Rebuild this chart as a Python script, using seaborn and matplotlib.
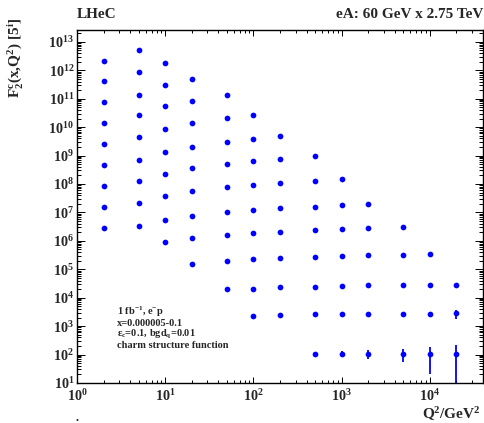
import numpy as np
import pandas as pd
import matplotlib
matplotlib.use("Agg")
import matplotlib.pyplot as plt
import matplotlib.ticker as mticker
import seaborn as sns

# ---------------- data ----------------
q2_bins = [2, 5, 10, 20, 50, 100, 200, 500, 1000, 2000, 5000, 10000, 20000]

f2c_q2_2 = [2.1e12, 4.1e11, 7.4e10, 1.35e10, 2.6e9, 4.8e8, 8.7e7, 1.6e7, 2.9e6]
f2c_q2_5 = [5.0e12, 8.5e11, 1.4e11, 2.6e10, 4.5e9, 7.2e8, 1.3e8, 2.2e7, 3.4e6]
f2c_q2_10 = [1.8e12, 3.0e11, 5.4e10, 8.5e9, 1.35e9, 2.3e8, 3.7e7, 5.6e6, 8.9e5]
f2c_q2_20 = [4.9e11, 8.5e10, 1.35e10, 2.0e9, 3.5e8, 5.5e7, 7.6e6, 1.26e6, 1.55e5]
f2c_q2_50 = [1.35e11, 2.1e10, 3.1e9, 5.2e8, 7.8e7, 1.05e7, 1.6e6, 2.0e5, 1.95e4]
f2c_q2_100 = [2.7e10, 3.8e9, 6.6e8, 9.1e7, 1.23e7, 1.86e6, 2.3e5, 2.1e4, 2.3e3]
f2c_q2_200 = [4.7e9, 7.8e8, 1.07e8, 1.4e7, 2.1e6, 2.5e5, 2.35e4, 2.45e3]
f2c_q2_500 = [9.3e8, 1.3e8, 1.6e7, 2.45e6, 2.8e5, 2.45e4, 2.6e3, 105]
f2c_q2_1000 = [1.45e8, 1.8e7, 2.6e6, 3.0e5, 2.6e4, 2.75e3, 105]
f2c_q2_2000 = [1.95e7, 2.9e6, 3.2e5, 2.7e4, 2.7e3, 105]
f2c_q2_5000 = [3.0e6, 3.3e5, 2.75e4, 2.75e3, 105]
f2c_q2_10000 = [3.4e5, 2.8e4, 2.75e3, 105]
f2c_q2_20000 = [2.9e4, 2.8e3, 105]

f2c_columns = [f2c_q2_2, f2c_q2_5, f2c_q2_10, f2c_q2_20, f2c_q2_50, f2c_q2_100,
               f2c_q2_200, f2c_q2_500, f2c_q2_1000, f2c_q2_2000, f2c_q2_5000,
               f2c_q2_10000, f2c_q2_20000]

# uncertainties on the lowest and second-lowest point of each Q2 column
err_lowest = [0, 0, 0, 0, 0, 0, 0, 10, 25, 35, 50, 84, 108]
err_second = [0, 0, 0, 0, 0, 0, 0, 0, 0, 0, 0, 400, 1000]

x_label = r"Q$^{\mathdefault{2}}$/GeV$^{\mathdefault{2}}$"
y_label = (r"F$_{\mathdefault{2}}^{\mathdefault{c}}$(x,Q$^{\mathdefault{2}}$) "
           r"[5$^{\mathdefault{i}}$]")
info_lines = [r"1 fb$^{\mathdefault{-1}}$, e$^{\mathdefault{-}}$p",
              "x=0.000005-0.1",
              r"ε$_{\mathdefault{c}}$=0.1, bgd$_{\mathdefault{q}}$=0.01",
              "charm structure function"]

# ---------------- tables ----------------
rows = []
for q, col in zip(q2_bins, f2c_columns):
    for v in col:
        rows.append((q, v))
df = pd.DataFrame(rows, columns=["Q2", "F2c"])

err_rows = []
for q, col, e1, e2 in zip(q2_bins, f2c_columns, err_lowest, err_second):
    if e1 > 0:
        err_rows.append((q, col[-1], e1))
    if e2 > 0:
        err_rows.append((q, col[-2], e2))
df_err = pd.DataFrame(err_rows, columns=["Q2", "F2c", "err"])

# ---------------- style ----------------
sns.set_style("ticks")
plt.rcParams["font.family"] = ["Liberation Serif", "DejaVu Serif"]
plt.rcParams["font.weight"] = "bold"
plt.rcParams["mathtext.fontset"] = "custom"
plt.rcParams["mathtext.rm"] = "Liberation Serif:bold"
plt.rcParams["mathtext.it"] = "Liberation Serif:italic:bold"
plt.rcParams["mathtext.bf"] = "Liberation Serif:bold"
plt.rcParams["axes.edgecolor"] = "black"
plt.rcParams["axes.linewidth"] = 1.0

W, H = 485, 423
fig = plt.figure(figsize=(W / 100, H / 100), dpi=100)
fig.patch.set_facecolor("white")
ax = fig.add_axes([77 / W, 40 / H, 406 / W, 353 / H])

blue = "#0000ff"
ax.errorbar(df_err["Q2"], df_err["F2c"], yerr=df_err["err"], fmt="none",
            ecolor=blue, elinewidth=1.3, capsize=0, zorder=2)
sns.scatterplot(data=df, x="Q2", y="F2c", color=blue, s=17, linewidth=0,
                ax=ax, legend=False, zorder=3)

ax.set_xscale("log")
ax.set_yscale("log")
ax.set_xlim(1, 4e4)
ax.set_ylim(10, 2.6e13)

ax.xaxis.set_major_locator(mticker.LogLocator(base=10, numticks=100))
ax.xaxis.set_minor_locator(mticker.LogLocator(base=10, subs=np.arange(2, 10), numticks=100))
ax.yaxis.set_major_locator(mticker.LogLocator(base=10, numticks=100))
ax.yaxis.set_minor_locator(mticker.LogLocator(base=10, subs=np.arange(2, 10), numticks=100))
ax.xaxis.set_major_formatter(mticker.LogFormatterSciNotation())
ax.yaxis.set_major_formatter(mticker.LogFormatterSciNotation())
ax.xaxis.set_minor_formatter(mticker.NullFormatter())
ax.yaxis.set_minor_formatter(mticker.NullFormatter())

ax.tick_params(which="both", direction="in", top=True, right=True,
               width=0.7, color="black", labelsize=10.2)
ax.tick_params(axis="x", which="major", length=4.5, pad=4)
ax.tick_params(axis="x", which="minor", length=2.3)
ax.tick_params(axis="y", which="major", length=5.5, pad=2)
ax.tick_params(axis="y", which="minor", length=2.8)
for lab in ax.get_xticklabels() + ax.get_yticklabels():
    lab.set_fontweight("bold")

for s in ax.spines.values():
    s.set_visible(True)
    s.set_color("black")
    s.set_linewidth(1.0)

ax.set_xlabel(x_label, fontsize=11, fontweight="bold", loc="right")
ax.xaxis.set_label_coords(0.994, -0.062)
ax.set_ylabel(y_label, fontsize=11, fontweight="bold", loc="top")
ax.yaxis.set_label_coords(-0.128, 1.035)

fig.text(77 / W, 1 - 18 / H, "LHeC", fontsize=11, fontweight="bold",
         ha="left", va="baseline")
fig.text(483 / W, 1 - 18 / H, "eA: 60 GeV x 2.75 TeV", fontsize=11,
         fontweight="bold", ha="right", va="baseline")

for yy, txt in zip([311.7, 323.3, 334.5, 346], info_lines):
    fig.text(117 / W, 1 - yy / H, txt, fontsize=7.5, fontweight="bold",
             ha="left", va="center")

fig.text(77 / W, 1 - 421 / H, ".", fontsize=9, fontweight="bold",
         ha="center", va="baseline")

fig.savefig("out.png", dpi=100, facecolor="white")
